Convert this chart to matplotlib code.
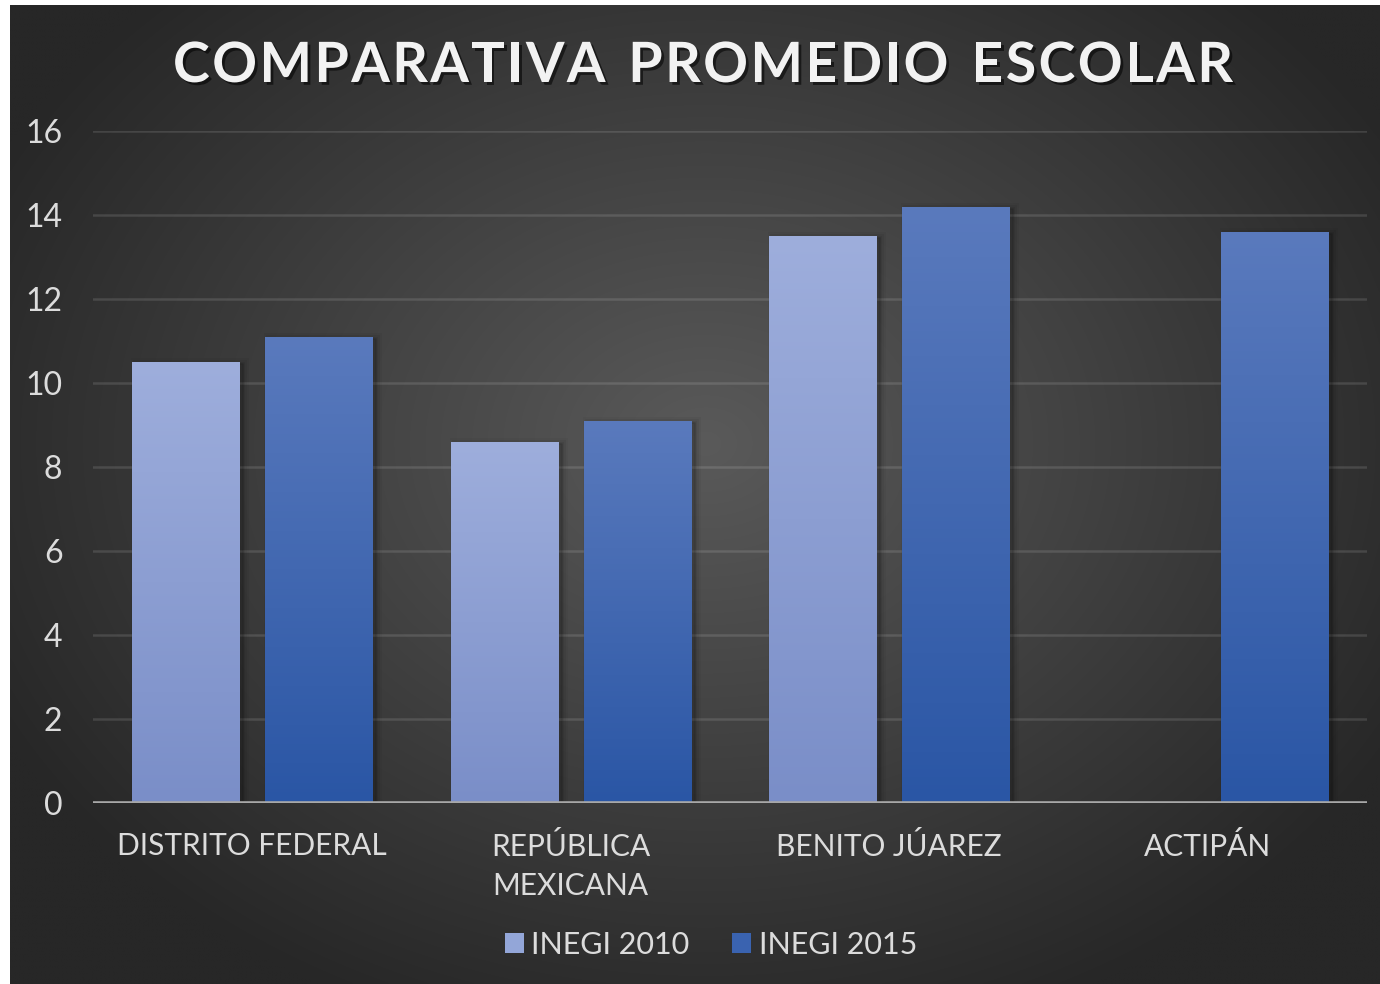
import numpy as np
import matplotlib
matplotlib.use("Agg")
import matplotlib.pyplot as plt
from matplotlib import patheffects as pe
from matplotlib.patches import Rectangle
import matplotlib.transforms as mtransforms

# ---------------- data ----------------
title = "COMPARATIVA PROMEDIO ESCOLAR"
categories = ["DISTRITO FEDERAL", "REPÚBLICA\nMEXICANA", "BENITO JÚAREZ", "ACTIPÁN"]
series_names = ["INEGI 2010", "INEGI 2015"]
inegi_2010 = [10.5, 8.6, 13.5, np.nan]
inegi_2015 = [11.1, 9.1, 14.2, 13.6]
yticks = [0, 2, 4, 6, 8, 10, 12, 14, 16]

# ---------------- styles ----------------
W, H = 1380, 984
FONT = ["Lato", "DejaVu Sans"]
TXT = "#dcdcdc"
grad_2010 = ("#9eaedc", "#7a8ec8")   # top, bottom
grad_2015 = ("#5a7abd", "#2a56a5")
legend_col = ["#93a6d8", "#3a63b0"]

fig = plt.figure(figsize=(W / 100, H / 100), dpi=100, facecolor="white")

# background with radial gradient
bg = fig.add_axes([0, 0, 1, 1], zorder=0)
bg.set_xlim(0, W)
bg.set_ylim(H, 0)
bg.axis("off")
yy, xx = np.mgrid[0:H:2, 0:W:2]
cx, cy = 700, 440
d = np.sqrt(((xx - cx) / 800.0) ** 2 + ((yy - cy) / 620.0) ** 2)
d = np.clip(d, 0, 1)
v = 0x5a / 255 * (1 - d) + 0x27 / 255 * d
img = np.dstack([v, v, v])
bg.imshow(img, extent=[10, W, H, 5], aspect="auto", interpolation="bilinear")

# main axes
x0, x1 = 93, 1367
ytop, ybot = 131, 803
ax = fig.add_axes([x0 / W, 1 - ybot / H, (x1 - x0) / W, (ybot - ytop) / H], zorder=1)
ax.set_facecolor("none")
for s in ax.spines.values():
    s.set_visible(False)

bw = 0.336
off = 0.2088
xs = np.arange(len(categories))


def grad_bars(xpos, vals, cols):
    bars = ax.bar(xpos, vals, width=bw, facecolor="none", edgecolor="none", zorder=3)
    for b in bars:
        h = b.get_height()
        if not np.isfinite(h) or h <= 0:
            continue
        bx, bwid = b.get_x(), b.get_width()
        # soft shadow (mostly to the right)
        for k, a in [(8, 0.035), (5, 0.05), (2, 0.07)]:
            tr = ax.transData + mtransforms.ScaledTranslation(4 / 100, -1 / 100, fig.dpi_scale_trans)
            sh = Rectangle((bx, 0), bwid, h, facecolor="black", edgecolor="black",
                           linewidth=k, alpha=a, transform=tr, zorder=2)
            ax.add_patch(sh)
        top = np.array(matplotlib.colors.to_rgb(cols[0]))
        bot = np.array(matplotlib.colors.to_rgb(cols[1]))
        t = np.linspace(0, 1, 256)[:, None]
        g = top[None, :] * (1 - t) + bot[None, :] * t
        gimg = g[:, None, :]
        im = ax.imshow(gimg, extent=[bx, bx + bwid, 0, h], aspect="auto", zorder=3,
                       interpolation="bilinear")
        im.set_clip_path(b)
    return bars


grad_bars(xs - off, inegi_2010, grad_2010)
grad_bars(xs + off, inegi_2015, grad_2015)

ax.set_xlim(-0.5, len(categories) - 0.5)
ax.set_ylim(0, 16)
ax.set_yticks(yticks)
ax.set_yticklabels([str(t) for t in yticks])
ax.set_xticks(xs)
ax.set_xticklabels(categories, linespacing=1.45)
ax.tick_params(axis="y", length=0, pad=22, labelsize=23, labelcolor=TXT)
ax.tick_params(axis="x", length=0, pad=21, labelsize=21.5, labelcolor=TXT)
for lab in ax.get_xticklabels() + ax.get_yticklabels():
    lab.set_family(FONT)
    lab.set_fontweight("normal")
ax.yaxis.grid(True, color="#ffffff", alpha=0.12, linewidth=1.8)
ax.set_axisbelow(True)
ax.axhline(0, color="#a8a8a8", linewidth=2.6, zorder=4)

# legend
handles = [Rectangle((0, 0), 1, 1, facecolor=c, edgecolor="none") for c in legend_col]
leg = fig.legend(handles, series_names, loc="center", bbox_to_anchor=(711 / W, 1 - 945 / H),
                 ncol=2, frameon=False, handlelength=0.62, handleheight=0.62,
                 handletextpad=0.25, columnspacing=1.4,
                 prop={"family": FONT, "size": 22, "weight": "normal"})
for t in leg.get_texts():
    t.set_color(TXT)

# title with letter spacing
renderer = fig.canvas.get_renderer()
fs = 40
target_w = 1060
widths = []
for ch in title:
    if ch == " ":
        widths.append(None)
        continue
    tt = fig.text(0, 0, ch, fontsize=fs, fontweight="bold", family=FONT)
    widths.append(tt.get_window_extent(renderer).width)
    tt.remove()
n_gaps = len(title) - 1
word_gap = 18.0
sum_w = sum(w for w in widths if w is not None) + word_gap * title.count(" ")
track = (target_w - sum_w) / n_gaps
xcur = (173 + 1233) / 2 - target_w / 2
base_y = 1 - 82 / H
shadow = [pe.withSimplePatchShadow(offset=(2, -2), shadow_rgbFace="black", alpha=0.55)]
for ch, w in zip(title, widths):
    if w is None:
        xcur += word_gap + track
        continue
    fig.text(xcur / W, base_y, ch, fontsize=fs, fontweight="bold", family=FONT,
             color="#f2f2f2", ha="left", va="baseline", path_effects=shadow, zorder=5)
    xcur += w + track

fig.savefig("out.png", dpi=100, facecolor="white")
